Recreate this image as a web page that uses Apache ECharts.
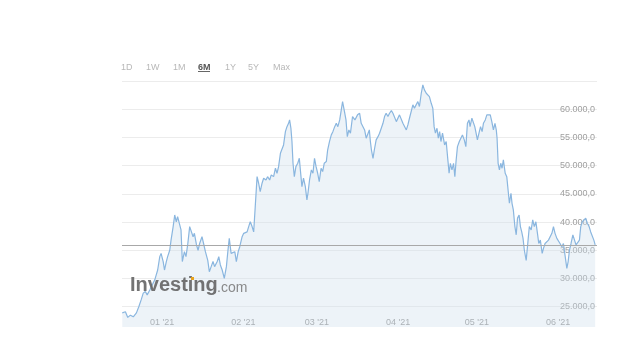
<!DOCTYPE html>
<html><head><meta charset="utf-8">
<script src="https://cdn.jsdelivr.net/npm/echarts@6/dist/echarts.min.js"></script>
<style>html,body{margin:0;padding:0;background:#fff}#c{width:637px;height:344px}</style>
</head><body><div id="c"></div>
<script>
// ---- data ----
const rangeButtons = ['1D','1W','1M','6M','1Y','5Y','Max'];
const activeRange = '6M';
const monthTicks = [0,31,59,90,120,151]; // days from 2021-01-01
const monthLabels = ["01 '21","02 '21","03 '21","04 '21","05 '21","06 '21"];
const yGridValues = [25000,30000,35000,40000,45000,50000,55000,60000,65000];
const yLabelValues = [25000,30000,35000,40000,45000,50000,55000,60000];
const lastPrice = 35940;
// days from 2021-01-01
const days = [-15.2,-14.0,-13.1,-12.1,-11.0,-9.8,-8.9,-8.0,-7.2,-6.4,-5.7,-4.7,-3.8,-2.8,-1.7,-0.9,-0.4,0.4,0.9,1.6,2.1,2.9,3.4,4.2,4.8,5.4,5.9,6.6,7.2,7.7,8.5,9.1,9.8,10.5,11.0,11.8,12.3,13.1,13.7,14.3,15.2,15.8,16.5,17.4,18.0,18.7,19.4,20.0,21.0,21.6,22.2,22.9,23.7,24.5,25.1,25.6,26.3,27.0,27.7,28.3,29.0,29.6,30.5,31.1,31.7,32.4,33.0,33.6,34.3,34.9,35.5,36.2,36.8,37.4,38.1,38.7,39.6,40.2,41.0,41.6,42.5,43.2,43.8,44.4,45.1,45.7,46.3,47.0,47.6,48.2,48.6,49.1,49.5,49.9,50.4,51.0,51.7,52.3,52.7,53.3,53.9,54.6,55.2,55.6,56.2,56.9,57.5,58.1,58.7,59.3,59.9,60.6,61.2,61.8,62.6,63.1,63.8,64.5,65.1,65.8,66.4,67.0,67.7,68.3,68.8,69.4,70.1,70.6,71.2,71.8,72.6,73.5,74.5,75.3,75.9,76.6,77.2,77.8,78.3,79.0,79.4,79.8,80.4,80.9,81.6,82.3,82.9,83.5,84.2,84.8,85.4,86.1,86.7,87.4,88.0,88.6,89.3,89.9,90.5,91.2,91.8,92.4,93.1,93.7,94.3,95.0,95.6,96.2,96.9,97.5,98.1,98.8,99.4,100.0,100.7,101.3,101.9,102.6,103.2,103.7,104.2,104.8,105.3,105.8,106.3,106.9,107.7,108.3,109.0,109.4,109.9,110.5,111.1,111.6,112.1,112.6,113.3,113.9,114.5,115.2,115.8,116.4,117.0,117.4,118.1,118.7,119.2,119.7,120.2,120.8,121.4,122.0,122.5,123.2,123.8,124.4,125.1,125.7,126.3,126.9,127.4,127.7,128.1,128.6,129.1,129.6,130.1,130.8,131.4,131.9,132.4,133.0,133.4,133.9,134.5,135.0,135.5,136.1,136.6,137.1,137.6,138.1,138.8,139.4,140.0,140.7,141.3,141.9,142.5,143.1,143.6,144.2,144.9,145.4,146.0,146.7,147.3,147.9,148.6,149.2,149.8,150.5,151.1,151.7,152.4,153.0,153.6,154.3,154.8,155.3,155.9,156.6,157.2,157.8,158.5,159.1,159.6,160.2,160.9,161.5,162.1,162.8,163.4,164.0,164.6,165.1];
const prices = [23900,24100,23100,23500,23200,23900,25000,26200,27400,27700,27100,27950,28850,29750,31500,33870,34450,33000,31500,33000,33870,35000,36800,39200,41250,40050,40950,41250,38600,33000,34750,33870,36200,39200,39450,37400,38000,35950,35000,36200,37400,36200,34750,33200,31200,32100,33000,32100,33000,33870,32400,31500,30000,32100,35000,37100,34450,34150,34750,33000,34750,35630,37400,38000,37700,38250,39200,40050,39200,38250,42730,48050,46880,45400,46880,47770,47460,48050,47460,48350,48050,49540,48650,49820,52180,51880,53670,56020,56910,57500,58100,56630,54270,50420,48050,49820,50420,51300,49240,46280,47770,46280,43920,45100,47460,49240,48650,51300,49820,48650,47170,49540,48950,50420,50720,52770,54270,55450,56020,56910,57500,56910,58100,59870,61350,59870,58100,55140,56330,55750,58700,58100,59000,59280,57500,57800,56330,54860,54570,56330,54270,52770,51300,52770,54570,55140,55750,56020,57500,58700,59280,58700,59280,59760,59280,59580,57800,58100,59000,58700,57500,57800,56330,57220,58400,58700,60770,60190,60480,61350,60480,62830,64300,63420,62830,63120,62240,61050,60190,56910,55750,56630,54860,56020,54270,55750,53670,54270,50720,48650,50420,49240,50420,48050,51010,53370,54270,54570,55450,54570,53370,57500,58100,56910,58400,58100,56910,55750,54570,55750,56910,56020,57500,58100,59000,58700,59000,57800,56330,57500,56330,54860,50420,49240,50420,49540,51010,48650,48050,45690,43330,45100,43330,42150,39200,37740,40700,41250,39200,38250,37100,35000,33210,36200,39200,38600,40370,39200,40050,38000,36200,36800,34450,35330,36200,35950,36800,37100,38000,39200,38000,37100,37400,36200,35630,36200,34150,31800,33000,35000,36200,37740,37400,35950,35630,36800,39200,40050,40370,40700,39790,39200,38250,38600,36800,35950];

// ---- layout / style ----
const buttonX = [121,146,173,198,225,248,273];
const fmt = v => {
  const s = Math.round(v).toString().replace(/\B(?=(\d{3})+(?!\d))/g, '.');
  return s + ',0';
};
const chart = echarts.init(document.getElementById('c'), null, {renderer:'canvas'});
const graphics = rangeButtons.map((t,i)=>({
  type:'text', left: buttonX[i], top: 63, z: 10,
  style:{ text:t, fontSize:9, fontFamily:'Liberation Sans, Arial, sans-serif',
    fill: t===activeRange ? '#555' : '#b8b8b8', fontWeight: t===activeRange ? 'bold':'normal' }
}));
graphics.push({type:'rect', left:198, top:71, shape:{width:12,height:1}, style:{fill:'#666'}, z:10});
graphics.push({type:'text', left:130, top:275, z:20,
  style:{text:'Investing', fontSize:20, fontWeight:'bold', fontFamily:'Liberation Sans, Arial, sans-serif', fill:'rgba(100,100,100,0.9)'}});
graphics.push({type:'text', left:217, top:281, z:20,
  style:{text:'.com', fontSize:14, fontFamily:'Liberation Sans, Arial, sans-serif', fill:'rgba(125,125,125,0.9)'}});
graphics.push({type:'rect', left:191, top:277, shape:{width:3,height:3}, style:{fill:'#e8a21c'}, z:21});

chart.setOption({
  animation:false,
  backgroundColor:'#fff',
  grid:{left:122, right:40, top:81, bottom:17},
  graphic: graphics,
  xAxis:{
    type:'value', min:-15.3, max:165.8,
    axisLine:{show:false}, axisTick:{show:false}, splitLine:{show:false},
    axisLabel:{inside:true, customValues: monthTicks, margin:0, fontSize:9, color:'#9a9a9a',
      fontFamily:'Liberation Sans, Arial, sans-serif',
      formatter: v => monthLabels[monthTicks.indexOf(v)] || ''}
  },
  yAxis:{
    type:'value', position:'right', min:21400, max:65000,
    axisLine:{show:false},
    axisTick:{show:false, customValues: yGridValues},
    splitLine:{show:true, lineStyle:{color:'#ececec', width:1}},
    axisLabel:{inside:true, customValues: yLabelValues, margin:2, fontSize:9, color:'#a0a0a0',
      verticalAlign:'middle', padding:[0,0,7,0], fontFamily:'Liberation Sans, Arial, sans-serif',
      formatter: fmt}
  },
  series:[{
    type:'line', showSymbol:false, smooth:false,
    data: days.map((d,i)=>[d, prices[i]]),
    lineStyle:{color:'#8ab6df', width:1.2},
    areaStyle:{color:'rgba(205,222,234,0.5)', origin:'start'},
    markLine:{silent:true, symbol:'none', label:{show:false},
      lineStyle:{color:'#a8a8a8', type:'solid', width:1},
      data:[{yAxis:lastPrice}]}
  }]
});
</script></body></html>
